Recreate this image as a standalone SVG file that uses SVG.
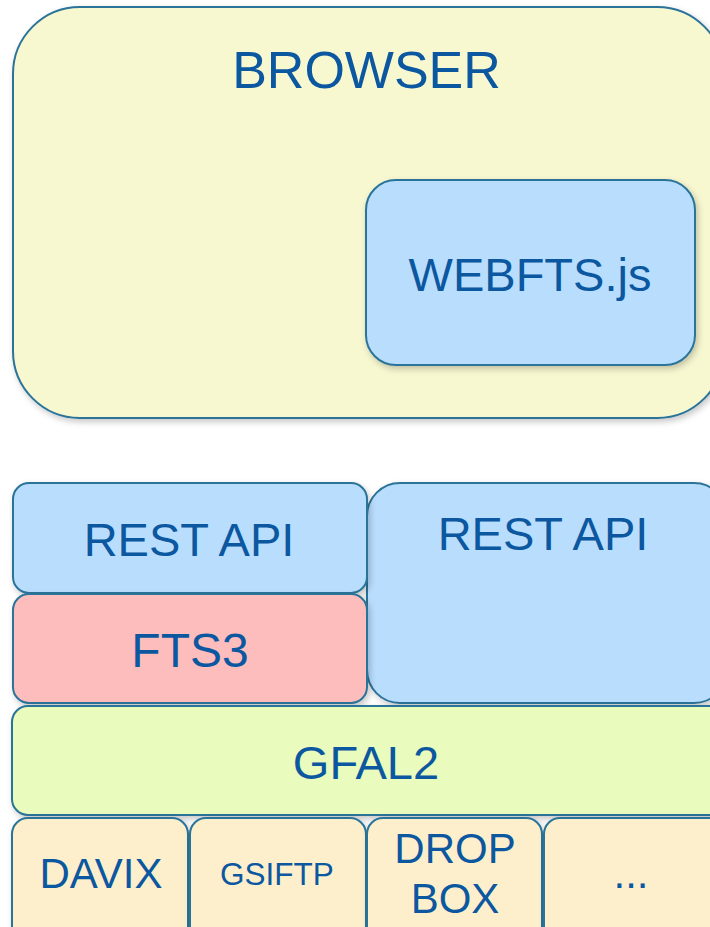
<svg xmlns="http://www.w3.org/2000/svg" width="710" height="927" viewBox="0 0 710 927">
<defs>
<filter id="sh" x="-10%" y="-10%" width="120%" height="130%">
<feDropShadow dx="2" dy="3" stdDeviation="3" flood-color="#000" flood-opacity="0.22"/>
</filter>
</defs>
<style>
.box{stroke:#2b7399;stroke-width:2;filter:url(#sh)}
.yel{fill:#f7f7d0}
.blue{fill:#b9ddfd}
.pink{fill:#fdbdbd}
.green{fill:#e9fbbd}
.beige{fill:#fdefcc}
text{font-family:"Liberation Sans",Arial,sans-serif;fill:#0b57a0;text-anchor:middle}
</style>
<rect width="710" height="927" fill="#fff"/>
<g id="browser">
<rect class="box yel" x="13" y="7" width="711" height="411" rx="67" ry="67"/>
<text x="366.5" y="88" font-size="52">BROWSER</text>
</g>
<g id="webfts">
<rect class="box blue" x="366" y="180" width="329" height="185" rx="30" ry="30"/>
<text x="530" y="291" font-size="47">WEBFTS.js</text>
</g>
<g id="restapi-right">
<rect class="box blue" x="367" y="483" width="360" height="220" rx="33" ry="33"/>
<text x="543" y="550" font-size="47">REST API</text>
</g>
<g id="restapi-left">
<rect class="box blue" x="13" y="483" width="354" height="110" rx="16" ry="16"/>
<text x="189" y="556" font-size="47">REST API</text>
</g>
<g id="fts3">
<rect class="box pink" x="13" y="594" width="354" height="109" rx="16" ry="16"/>
<text x="190" y="667" font-size="48">FTS3</text>
</g>
<g id="gfal2">
<rect class="box green" x="12" y="706" width="720" height="109" rx="16" ry="16"/>
<text x="366" y="779" font-size="47">GFAL2</text>
</g>
<g id="davix">
<rect class="box beige" x="12" y="818" width="176" height="130" rx="16" ry="16"/>
<text x="101" y="888" font-size="42">DAVIX</text>
</g>
<g id="gsiftp">
<rect class="box beige" x="190" y="818" width="176" height="130" rx="16" ry="16"/>
<text x="277" y="885" font-size="31.5">GSIFTP</text>
</g>
<g id="dropbox">
<rect class="box beige" x="367" y="818" width="175" height="130" rx="16" ry="16"/>
<text x="455" y="863" font-size="42">DROP</text>
<text x="455" y="913" font-size="42">BOX</text>
</g>
<g id="more">
<rect class="box beige" x="544" y="818" width="190" height="130" rx="16" ry="16"/>
<text x="631" y="888" font-size="42">...</text>
</g>
<g id="connectors"></g>
</svg>
